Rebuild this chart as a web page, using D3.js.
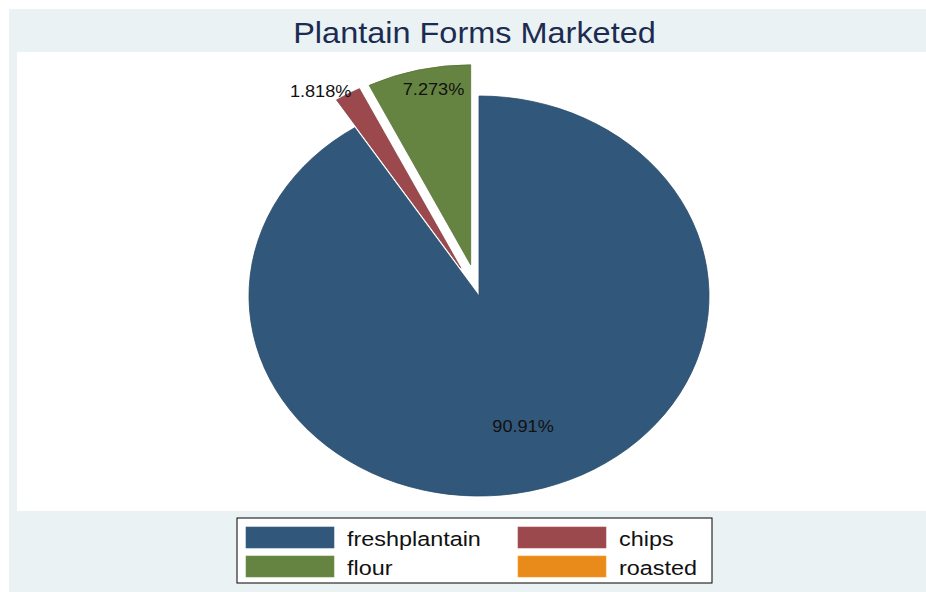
<!DOCTYPE html>
<html>
<head>
<meta charset="utf-8">
<script src="https://cdn.jsdelivr.net/npm/d3@7/dist/d3.min.js"></script>
<style>
  html, body { margin: 0; padding: 0; background: #ffffff; }
  svg { display: block; font-family: "Liberation Sans", Arial, Helvetica, sans-serif; }
</style>
</head>
<body>
<svg id="chart" width="926" height="592"></svg>
<script>
// Forms in which plantain is marketed (percent of respondents)
const categories = ["freshplantain", "chips", "flour", "roasted"];
const shares = [90.91, 1.818, 7.273, 0];
const shareLabels = ["90.91%", "1.818%", "7.273%", ""];
const exploded = ["chips", "flour"];
const chartTitle = "Plantain Forms Marketed";

const colors = d3.scaleOrdinal()
  .domain(categories)
  .range(["#31577a", "#9c494e", "#668441", "#e88b1b"]);

const svg = d3.select("#chart");
const W = 926, H = 592;

// Graph region and plot region
svg.append("rect").attr("x", 9).attr("y", 9).attr("width", W - 9).attr("height", H - 9)
  .attr("fill", "#eaf2f3");
svg.append("rect").attr("x", 17).attr("y", 52).attr("width", W - 17).attr("height", 459)
  .attr("fill", "#ffffff");

// Title
svg.append("text")
  .attr("transform", "translate(474.5,43) scale(1.12,1)")
  .attr("text-anchor", "middle")
  .attr("font-size", 29)
  .attr("fill", "#1c2b52")
  .text(chartTitle);

// Pie
const cx = 479, cy = 296, R = 200, sx = 1.15;
const explodeDist = 32;

const pie = d3.pie().sort(null).value(d => d.value).startAngle(0).endAngle(2 * Math.PI);
const data = categories.map((c, i) => ({ name: c, value: shares[i], label: shareLabels[i] }));
const arcs = pie(data);
const arc = d3.arc().innerRadius(0).outerRadius(R);

const mid = a => (a.startAngle + a.endAngle) / 2;
const offset = a => {
  if (!exploded.includes(a.data.name)) return [0, 0];
  const m = mid(a);
  return [Math.sin(m) * explodeDist, -Math.cos(m) * explodeDist];
};

const pieG = svg.append("g").attr("transform", `translate(${cx},${cy}) scale(${sx},1)`);
pieG.selectAll("path")
  .data(arcs.filter(a => a.value > 0))
  .join("path")
  .attr("transform", a => `translate(${offset(a)[0]},${offset(a)[1]})`)
  .attr("d", arc)
  .attr("fill", a => colors(a.data.name))
  .attr("stroke", a => d3.color(colors(a.data.name)).darker(0.4))
  .attr("stroke-width", 0.8)
  .attr("vector-effect", "non-scaling-stroke");

// Slice labels: radius and angular nudge per slice
const labelPlace = {
  freshplantain: { r: 136, da: 0 },
  chips: { r: 215, da: -5.1 },
  flour: { r: 179, da: 2.7 }
};
arcs.filter(a => a.value > 0).forEach(a => {
  const p = labelPlace[a.data.name];
  const ang = mid(a) + p.da * Math.PI / 180;
  const o = offset(a);
  const x = cx + (Math.sin(ang) * p.r + o[0]) * sx;
  const y = cy + (-Math.cos(ang) * p.r + o[1]);
  svg.append("text")
    .attr("transform", `translate(${x},${y}) scale(1.1,1)`)
    .attr("text-anchor", "middle")
    .attr("dy", "0.36em")
    .attr("font-size", 16.5)
    .attr("fill", "#111111")
    .text(a.data.label);
});

// Legend
const lg = svg.append("g");
lg.append("rect").attr("x", 237).attr("y", 518).attr("width", 475).attr("height", 65)
  .attr("fill", "#ffffff").attr("stroke", "#000000").attr("stroke-width", 1);

const colX = [246, 518], rowY = [527, 556];
categories.forEach((c, i) => {
  const col = i % 2, row = Math.floor(i / 2);
  lg.append("rect")
    .attr("x", colX[col]).attr("y", rowY[row])
    .attr("width", 88).attr("height", 21)
    .attr("fill", colors(c))
    .attr("stroke", d3.color(colors(c)).brighter(0.3)).attr("stroke-width", 0.6);
  lg.append("text")
    .attr("transform", `translate(${colX[col] + 101},${rowY[row] + 18.5}) scale(1.2,1)`)
    .attr("font-size", 19.5)
    .attr("fill", "#111111")
    .text(c);
});
</script>
</body>
</html>
